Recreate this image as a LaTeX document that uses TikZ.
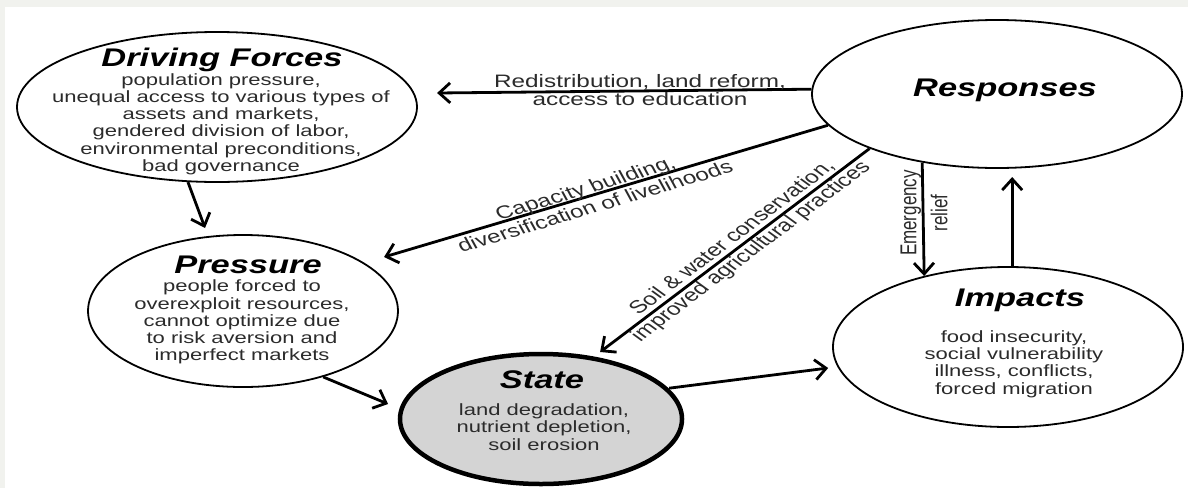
\documentclass[tikz,border=0pt]{standalone}
\usepackage{fontspec}
\setmainfont{Liberation Sans}
\usetikzlibrary{shapes.geometric,arrows.meta}
\definecolor{bgout}{HTML}{F1F2EE}
\definecolor{bodyc}{HTML}{2B2B2B}
\definecolor{statefill}{HTML}{D4D4D4}
\begin{document}
\begin{tikzpicture}[x=0.740741pt,y=-1pt,xscale=1.35,transform shape,
  ell/.style={ellipse,draw=black,line width=1.8pt,inner sep=0pt,fill=white},
  ttl/.style={font=\fontsize{25.5}{28}\selectfont\bfseries\itshape,inner sep=0pt},
  bdy/.style={font=\fontsize{16.3}{17.2}\selectfont,align=center,text=bodyc,inner sep=0pt},
  lbl/.style={font=\fontsize{18}{18}\selectfont,align=center,text=bodyc,inner sep=0pt},
  arr/.style={line width=2.8pt,-{Straight Barb[length=11pt,width=20pt]}}]
\useasboundingbox (0,0) rectangle (1188,488);
\fill[bgout] (0,0) rectangle (1188,488);
\fill[white] (5,7) rectangle (1188,488);

% ellipses
\node[ell,minimum width=296.3pt,minimum height=150pt] (df) at (217,107) {};
\node[ell,minimum width=274.1pt,minimum height=148pt] (resp) at (997,94) {};
\node[ell,minimum width=229.6pt,minimum height=152pt] (pres) at (243,311) {};
\node[ell,line width=4.5pt,fill=statefill,minimum width=208.9pt,minimum height=130pt] (state) at (541,419) {};
\node[ell,minimum width=259.3pt,minimum height=160pt] (imp) at (1008,347) {};

% texts
\node[ttl] (dft) at (222,60) {Driving Forces};
\node[bdy] (dfb) at (221,124) {population pressure,\\unequal access to various types of\\assets and markets,\\gendered division of labor,\\environmental preconditions,\\bad governance};
\node[ttl] (respt) at (1005,90) {Responses};
\node[ttl] (prest) at (248,265) {Pressure};
\node[bdy] (presb) at (242,322) {people forced to\\overexploit resources,\\cannot optimize due\\to risk aversion and\\imperfect markets};
\node[ttl] (statet) at (542,380) {State};
\node[bdy] (stateb) at (544,427) {land degradation,\\nutrient depletion,\\soil erosion};
\node[ttl] (impt) at (1020,300) {Impacts};
\node[bdy] (impb) at (1014,364) {food insecurity,\\social vulnerability\\illness, conflicts,\\forced migration};

% free arrow ends
\coordinate (t1) at (437,93);
\coordinate (t2) at (384,257);
\coordinate (t3) at (600,352);
\coordinate (t4) at (924,276);
\coordinate (t5) at (1012,177);
\coordinate (t6) at (205,228);
\coordinate (t7) at (388,404);
\coordinate (t8) at (828,368);

% connectors
\draw[arr] (resp.178) -- (t1);
\draw[arr] (resp.194) -- (t2);
\draw[arr] (resp.210) -- (t3);
\draw[arr] (resp.231.5) -- (t4);
\draw[arr] (imp.north -| t5) -- (t5);
\draw[arr] (df.254) -- (t6);
\draw[arr] (pres.312) -- (t7);
\draw[arr] (state.18) -- (t8);

% connector labels
\node[lbl] (l1) at (640,90) {Redistribution, land reform,\\access to education};
\node[lbl,rotate=22,font=\fontsize{18}{19.5}\selectfont] (l2) at (590,197) {Capacity building,\\diversification of livelihoods};
\node[lbl,rotate=45.5,font=\fontsize{18}{19.5}\selectfont] (l3) at (742,245) {Soil \& water conservation,\\improved agricultural practices};
\node[lbl,rotate=90,font=\fontsize{17}{23}\selectfont] (l4) at (924,213) {Emergency\\relief};
\end{tikzpicture}
\end{document}
